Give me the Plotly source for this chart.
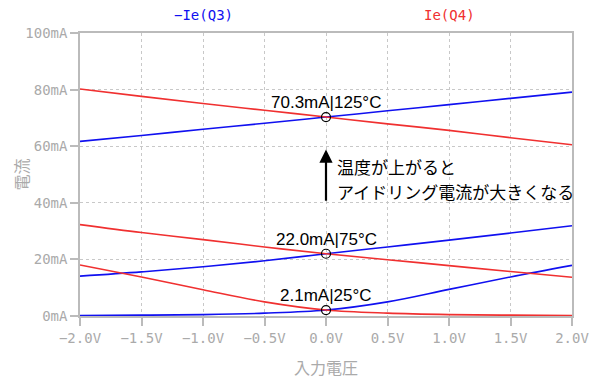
import plotly.graph_objects as go

# Input voltage (V)
vin = [-2.0, -1.5, -1.0, -0.5, 0.0, 0.5, 1.0, 1.5, 2.0]

# -Ie(Q3) in mA at each temperature
q3_125 = [61.7, 63.8, 66.0, 68.1, 70.3, 72.5, 74.7, 76.9, 79.1]
q3_75 = [14.1, 15.6, 17.4, 19.5, 22.0, 24.4, 26.8, 29.3, 31.9]
q3_25 = [0.2, 0.3, 0.5, 1.0, 2.1, 5.0, 9.4, 13.8, 17.9]

# Ie(Q4) in mA at each temperature
q4_125 = [80.2, 77.6, 75.1, 72.7, 70.3, 67.9, 65.6, 63.0, 60.5]
q4_75 = [32.3, 29.5, 27.0, 24.4, 22.0, 19.9, 17.8, 15.7, 13.7]
q4_25 = [18.0, 13.8, 9.3, 5.0, 2.1, 1.0, 0.5, 0.3, 0.2]

# Operating points (at 0 V)
op_values = [70.3, 22.0, 2.1]
op_labels = ["70.3mA|125°C", "22.0mA|75°C", "2.1mA|25°C"]

x_ticks = [-2.0, -1.5, -1.0, -0.5, 0.0, 0.5, 1.0, 1.5, 2.0]
x_ticktext = ["−2.0V", "−1.5V", "−1.0V", "−0.5V", "0.0V", "0.5V", "1.0V", "1.5V", "2.0V"]
y_ticks = [0, 20, 40, 60, 80, 100]
y_ticktext = ["0mA", "20mA", "40mA", "60mA", "80mA", "100mA"]

BLUE = "#1010f0"
RED = "#f03030"
GRAY = "#aaaaaa"
MONO = "DejaVu Sans Mono"
SANS = "Liberation Sans, Arial, sans-serif"
CJK = "Noto Sans CJK JP"

fig = go.Figure()
for ys in (q3_125, q3_75, q3_25):
    fig.add_trace(go.Scatter(x=vin, y=ys, mode="lines", line=dict(color=BLUE, width=1.6, shape="spline"),
                             showlegend=False, hoverinfo="skip"))
for ys in (q4_125, q4_75, q4_25):
    fig.add_trace(go.Scatter(x=vin, y=ys, mode="lines", line=dict(color=RED, width=1.6, shape="spline"),
                             showlegend=False, hoverinfo="skip"))

fig.add_trace(go.Scatter(x=[0.0] * len(op_values), y=op_values, mode="markers",
                         marker=dict(symbol="circle-open", size=9, color="black", line=dict(width=1.2)),
                         showlegend=False, hoverinfo="skip"))

annotations = []
for v, lab in zip(op_values, op_labels):
    annotations.append(dict(x=0.0, y=v, xref="x", yref="y", text=lab, showarrow=False,
                            yanchor="bottom", xanchor="center", yshift=3,
                            font=dict(family=SANS, size=17, color="black")))

# arrow
annotations.append(dict(x=0.0, y=58.8, ax=0.0, ay=40.2, xref="x", yref="y", axref="x", ayref="y",
                        text="", showarrow=True, arrowhead=2, arrowsize=1.2, arrowwidth=2.2,
                        arrowcolor="black"))
annotations.append(dict(x=0.07, y=52.8, xref="x", yref="y", text="温度が上がると", showarrow=False,
                        xanchor="left", yanchor="middle", font=dict(family=CJK, size=17, color="black")))
annotations.append(dict(x=0.07, y=44.0, xref="x", yref="y", text="アイドリング電流が大きくなる", showarrow=False,
                        xanchor="left", yanchor="middle", font=dict(family=CJK, size=17, color="black")))

# series titles
annotations.append(dict(x=0.25, y=1.0, xref="paper", yref="paper", yshift=18, text="−Ie(Q3)",
                        showarrow=False, xanchor="center", yanchor="middle",
                        font=dict(family=MONO, size=14, color=BLUE)))
annotations.append(dict(x=0.75, y=1.0, xref="paper", yref="paper", yshift=18, text="Ie(Q4)",
                        showarrow=False, xanchor="center", yanchor="middle",
                        font=dict(family=MONO, size=14, color=RED)))

# y-axis title
annotations.append(dict(x=0.0, y=0.5, xref="paper", yref="paper", xshift=-60, text="電流",
                        showarrow=False, textangle=-90, xanchor="center", yanchor="middle",
                        font=dict(family=CJK, size=16, color=GRAY)))

fig.update_layout(
    width=592, height=376,
    margin=dict(l=72, r=28, t=25, b=68),
    paper_bgcolor="white", plot_bgcolor="white",
    annotations=annotations,
    xaxis=dict(range=[-2.0, 2.0], tickvals=x_ticks, ticktext=x_ticktext, automargin=False,
               tickfont=dict(family=MONO, size=14, color=GRAY),
               showgrid=True, gridcolor="#c8c8c8", griddash="3px,3px", gridwidth=1,
               showline=True, linecolor="#bbbbbb", linewidth=1.5, mirror=True,
               ticks="outside", ticklen=8, tickcolor="#bbbbbb", tickwidth=1.5,
               zeroline=False,
               title=dict(text="入力電圧", font=dict(family=CJK, size=16, color=GRAY), standoff=18)),
    yaxis=dict(range=[0, 100], tickvals=y_ticks, ticktext=y_ticktext, automargin=False,
               tickfont=dict(family=MONO, size=14, color=GRAY),
               showgrid=True, gridcolor="#c8c8c8", griddash="3px,3px", gridwidth=1,
               showline=True, linecolor="#bbbbbb", linewidth=1.5, mirror=True,
               ticks="outside", ticklen=8, tickcolor="#bbbbbb", tickwidth=1.5,
               zeroline=False),
)

fig.write_html("out.html")
